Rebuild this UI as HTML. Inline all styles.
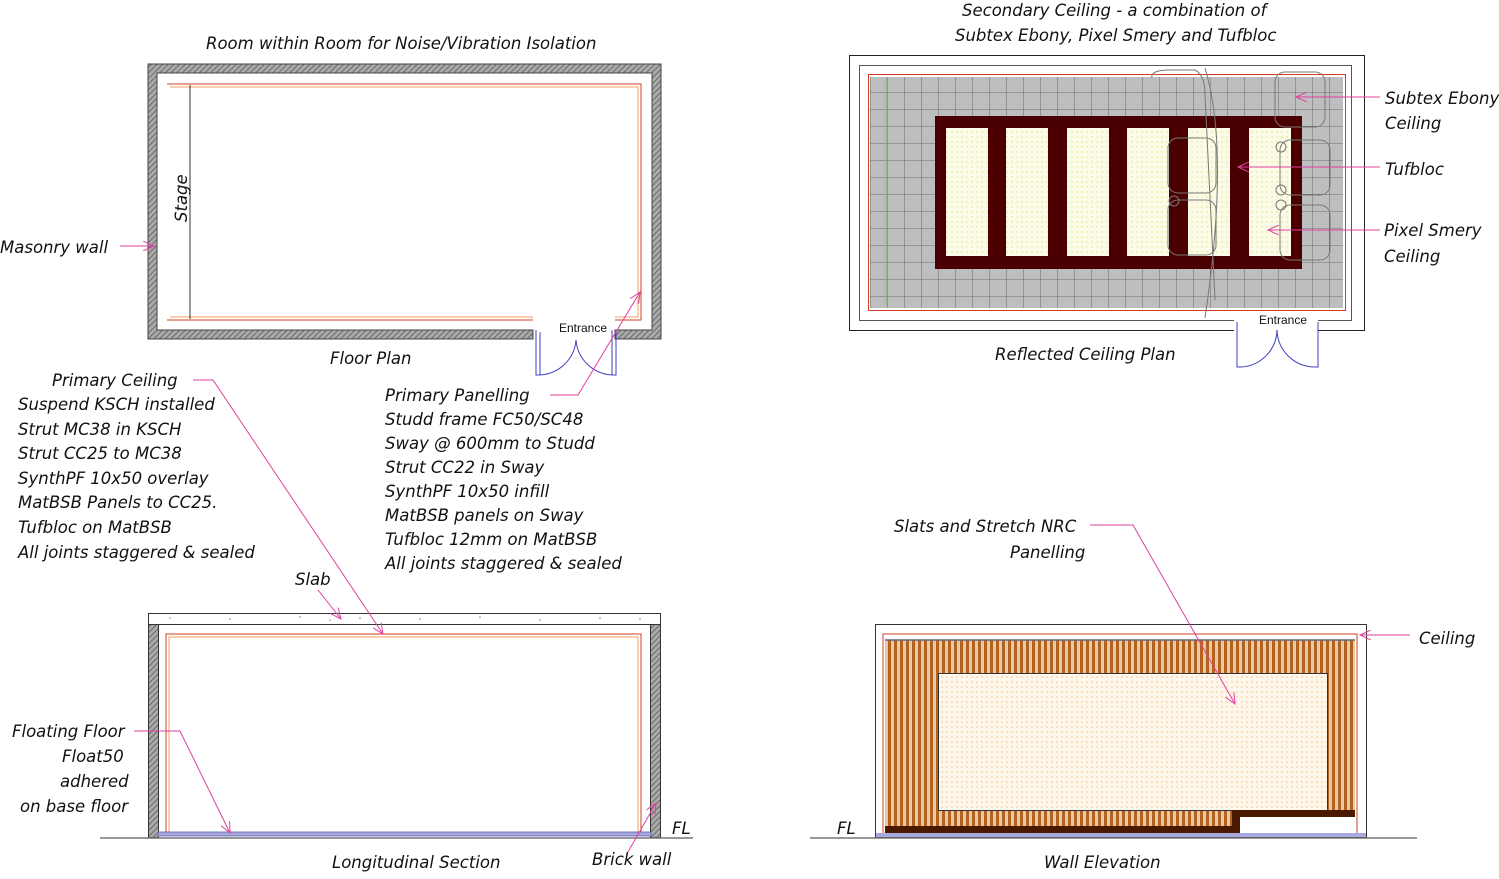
<!DOCTYPE html>
<html><head><meta charset="utf-8"><style>
body{margin:0;background:#fff;}
svg text{font-family:"DejaVu Sans","Liberation Sans",sans-serif;font-size:16.5px;fill:#111;font-style:italic;}
</style></head><body>
<svg width="1499" height="874" viewBox="0 0 1499 874" xmlns="http://www.w3.org/2000/svg">
<defs>
<pattern id="h" width="4" height="4" patternUnits="userSpaceOnUse" patternTransform="rotate(45)"><rect width="4" height="4" fill="#aaa"/><line x1="0" y1="0" x2="0" y2="4" stroke="#555" stroke-width="1.5"/></pattern>
<pattern id="g" width="17" height="17" patternUnits="userSpaceOnUse" x="870" y="75"><rect width="17" height="17" fill="#bdbebf"/><path d="M0 0H17M0 0V17" stroke="#555" stroke-width="0.8"/></pattern>
<pattern id="sl" width="6" height="10" patternUnits="userSpaceOnUse"><rect width="6" height="10" fill="#e9c9a4"/><rect width="3" height="10" fill="#b4621f"/></pattern>
<pattern id="dt" width="5" height="5" patternUnits="userSpaceOnUse"><rect width="5" height="5" fill="#fdf6ea"/><circle cx="2" cy="2" r="0.8" fill="#f4c48a"/></pattern>
<pattern id="yd" width="5" height="5" patternUnits="userSpaceOnUse"><rect width="5" height="5" fill="#fbfbe8"/><circle cx="2" cy="2" r="0.7" fill="#e0e27a"/></pattern>
<marker id="a" markerWidth="12" markerHeight="10" refX="11" refY="5" orient="auto" markerUnits="userSpaceOnUse"><path d="M0 0L11 5L0 10" fill="none" stroke="#e0409f" stroke-width="1"/></marker>
</defs>

<!-- Floor plan -->
<text x="206" y="49">Room within Room for Noise/Vibration Isolation</text>
<path d="M148 64H661V339H615V330H652V73H157V330H533V339H148Z" fill="url(#h)" stroke="#444"/>
<path d="M167 84H641V320H615M533 320H167Z" fill="none" stroke="#d04020" stroke-width="1"/>
<path d="M170 87H638V317H615M533 317H170Z" fill="none" stroke="#f0a060" stroke-width="1"/>
<line x1="190" y1="85" x2="190" y2="319" stroke="#333"/>
<text transform="translate(187,222) rotate(-90)">Stage</text>
<text x="559" y="332" style="font-style:normal;font-size:12px;font-family:'Liberation Sans',sans-serif">Entrance</text>
<path d="M536 330V375H540V332M612 330V375H616V332M540 375A38 38 0 0 0 576 340M612 375A38 38 0 0 1 576 340" fill="none" stroke="#4040c0"/>
<text x="330" y="364">Floor Plan</text>
<text x="0" y="253">Masonry wall</text>

<!-- RCP -->
<text x="962" y="16">Secondary Ceiling - a combination of</text>
<text x="955" y="41">Subtex Ebony, Pixel Smery and Tufbloc</text>
<rect x="849.5" y="55.5" width="515" height="275" fill="none" stroke="#222"/>
<rect x="859.5" y="65.5" width="492" height="255" fill="none" stroke="#555"/>
<rect x="868.5" y="74.5" width="477" height="236" fill="none" stroke="#d04020"/>
<rect x="870" y="77" width="473" height="231" fill="url(#g)"/>
<rect x="1234" y="318" width="84" height="14" fill="#fff"/>
<text x="1259" y="324" style="font-style:normal;font-size:12px;font-family:'Liberation Sans',sans-serif">Entrance</text>
<path d="M1237 322V367H1241M1314 367H1318V322M1241 367A38 38 0 0 0 1277 330M1314 367A38 38 0 0 1 1277 330" fill="none" stroke="#4040c0"/>
<line x1="886" y1="78" x2="886" y2="305" stroke="#7c5"/>
<rect x="935" y="116" width="367" height="153" fill="#4a0000"/>
<g fill="url(#yd)">
<rect x="946" y="128" width="42" height="128"/><rect x="1006" y="128" width="42" height="128"/><rect x="1067" y="128" width="42" height="128"/><rect x="1127" y="128" width="42" height="128"/><rect x="1188" y="128" width="42" height="128"/><rect x="1249" y="128" width="42" height="128"/>
</g>
<g fill="none" stroke="#777" stroke-width="1">
<path d="M1152 78Q1150 70 1170 70H1195Q1205 75 1205 95L1215 300M1205 68Q1230 150 1205 318"/>
<rect x="1168" y="138" width="48" height="55" rx="10"/><rect x="1168" y="200" width="48" height="55" rx="10"/>
<rect x="1275" y="72" width="50" height="55" rx="10"/><rect x="1280" y="140" width="50" height="55" rx="10"/><rect x="1280" y="205" width="50" height="55" rx="10"/>
<circle cx="1281" cy="147" r="5"/><circle cx="1281" cy="190" r="5"/><circle cx="1281" cy="205" r="5"/><circle cx="1174" cy="201" r="5"/>
</g>
<text x="1385" y="104">Subtex Ebony</text><text x="1385" y="129">Ceiling</text>
<text x="1385" y="175">Tufbloc</text>
<text x="1384" y="236">Pixel Smery</text><text x="1384" y="262">Ceiling</text>
<text x="995" y="360">Reflected Ceiling Plan</text>

<!-- Notes -->
<g>
<text x="52" y="386">Primary Ceiling</text>
<text x="18" y="410">Suspend KSCH installed</text>
<text x="18" y="435">Strut MC38 in KSCH</text>
<text x="18" y="459">Strut CC25 to MC38</text>
<text x="18" y="484">SynthPF 10x50 overlay</text>
<text x="18" y="508">MatBSB Panels to CC25.</text>
<text x="18" y="533">Tufbloc on MatBSB</text>
<text x="18" y="558">All joints staggered &amp; sealed</text>
<text x="385" y="401">Primary Panelling</text>
<text x="385" y="425">Studd frame FC50/SC48</text>
<text x="385" y="449">Sway @ 600mm to Studd</text>
<text x="385" y="473">Strut CC22 in Sway</text>
<text x="385" y="497">SynthPF 10x50 infill</text>
<text x="385" y="521">MatBSB panels on Sway</text>
<text x="385" y="545">Tufbloc 12mm on MatBSB</text>
<text x="385" y="569">All joints staggered &amp; sealed</text>
<text x="295" y="585">Slab</text>
</g>

<!-- Section -->
<rect x="148.5" y="613.5" width="512" height="11" fill="#fff" stroke="#333"/>
<g fill="#888"><circle cx="170" cy="618" r="0.8"/><circle cx="230" cy="619" r="0.8"/><circle cx="300" cy="617" r="0.8"/><circle cx="330" cy="620" r="0.8"/><circle cx="360" cy="618" r="0.8"/><circle cx="420" cy="619" r="0.8"/><circle cx="480" cy="617" r="0.8"/><circle cx="540" cy="620" r="0.8"/><circle cx="600" cy="618" r="0.8"/><circle cx="640" cy="619" r="0.8"/></g>
<rect x="148.5" y="624.5" width="10" height="213" fill="url(#h)" stroke="#333"/>
<rect x="650.5" y="624.5" width="10" height="213" fill="url(#h)" stroke="#333"/>
<path d="M166 834V634H641V834" fill="none" stroke="#d04020"/>
<path d="M169 834V637H638V834" fill="none" stroke="#f0a060"/>
<rect x="158" y="832" width="493" height="4" fill="#a8a8e0" stroke="#6060b0" stroke-width="0.8"/>
<line x1="100" y1="838" x2="693" y2="838" stroke="#777" stroke-width="1.5"/>
<text x="672" y="834">FL</text>
<text x="12" y="737">Floating Floor</text>
<text x="62" y="762">Float50</text>
<text x="60" y="787">adhered</text>
<text x="20" y="812">on base floor</text>
<text x="332" y="868">Longitudinal Section</text>
<text x="592" y="865">Brick wall</text>

<!-- Elevation -->
<text x="894" y="532">Slats and Stretch NRC</text>
<text x="1010" y="558">Panelling</text>
<text x="1419" y="644">Ceiling</text>
<rect x="875.5" y="624.5" width="491" height="213" fill="#fff" stroke="#333"/>
<path d="M883 836V634H1357V836" fill="none" stroke="#d04020"/>
<rect x="885" y="640" width="470" height="188" fill="url(#sl)"/>
<line x1="885" y1="640" x2="1355" y2="640" stroke="#667" stroke-width="1.5"/>
<rect x="938.5" y="673.5" width="389" height="137" fill="url(#dt)" stroke="#333"/>
<rect x="885" y="826" width="353" height="8" fill="#4a1a00"/>
<rect x="1238" y="810" width="117" height="7" fill="#4a1a00"/>
<rect x="1232" y="810" width="8" height="24" fill="#4a1a00"/>
<rect x="1240" y="817" width="115" height="17" fill="#fff"/>
<rect x="876" y="833" width="490" height="4" fill="#a8a8e0"/>
<line x1="810" y1="838" x2="1417" y2="838" stroke="#777" stroke-width="1.5"/>
<text x="837" y="834">FL</text>
<text x="1044" y="868">Wall Elevation</text>

<!-- Leaders on top -->
<g stroke="#e0409f" fill="none" marker-end="url(#a)">
<line x1="120" y1="246" x2="154" y2="246"/>
<line x1="1380" y1="97" x2="1296" y2="97"/><line x1="1380" y1="167" x2="1238" y2="167"/><line x1="1380" y1="230" x2="1268" y2="230"/>
<path d="M193 380H213L383 634"/>
<path d="M550 395H578L640 292"/>
<path d="M318 590L341 619"/>
<path d="M134 731H180L230 833"/>
<path d="M628 852L656 803"/>
<path d="M1090 525H1133L1235 704"/>
<path d="M1410 635H1360"/>
</g>
</svg>
</body></html>
